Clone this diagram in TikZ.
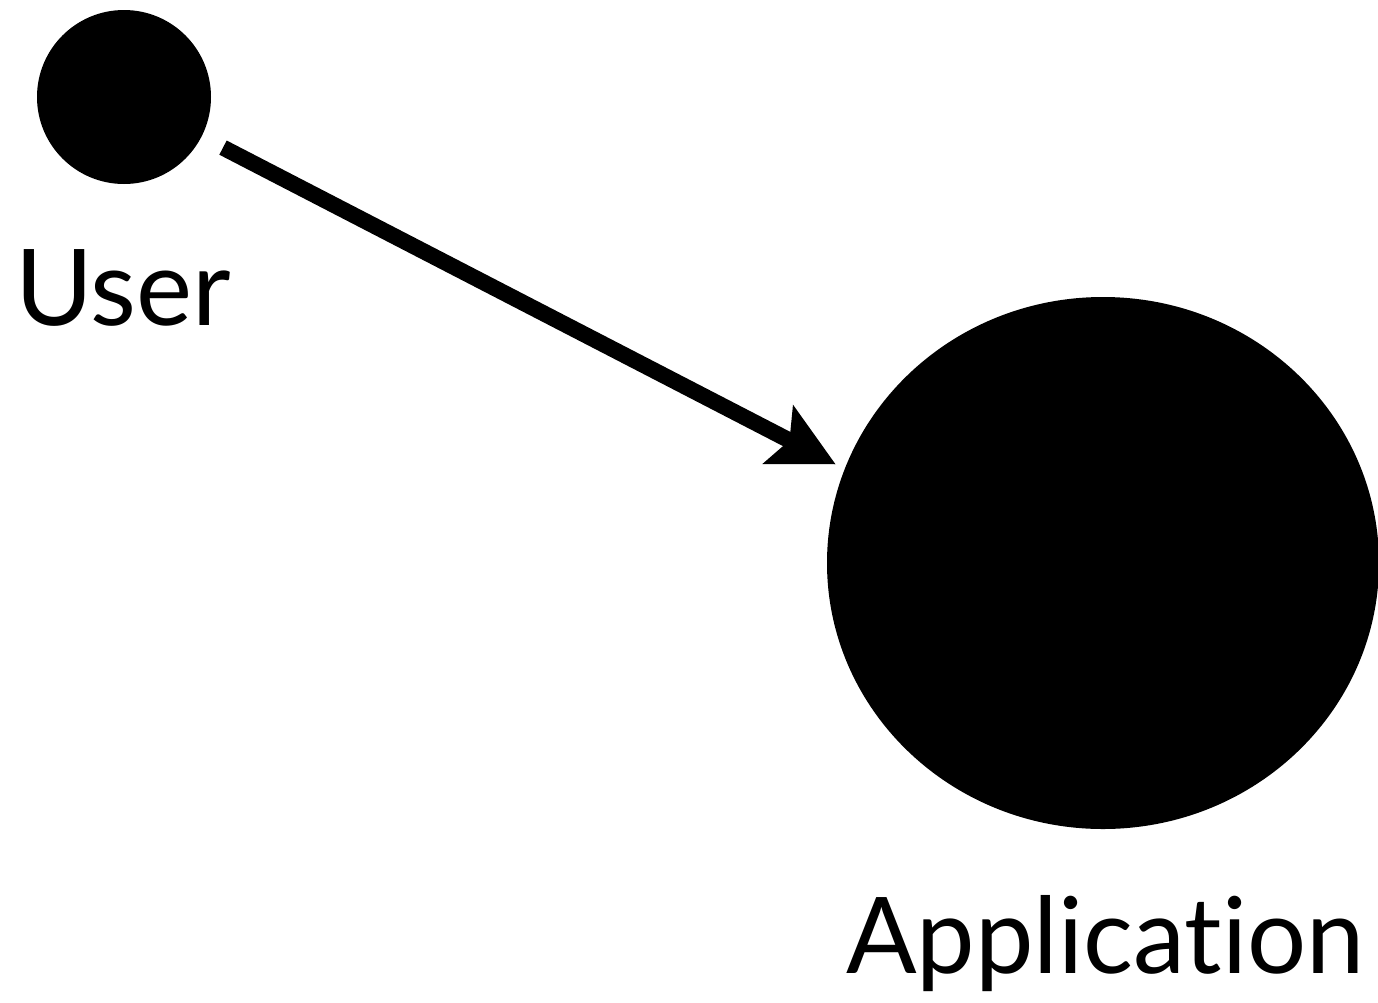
\documentclass[tikz,border=0pt]{standalone}
\usepackage{fontspec}
\setmainfont[Ligatures=NoCommon]{Lato}
\usetikzlibrary{arrows.meta,shapes.geometric}
\begin{document}
\begin{tikzpicture}[x=1pt,y=-1pt,
  blob/.style={fill=black,draw=none,inner sep=0pt},
  lbl/.style={inner sep=0pt,anchor=base west,font=\fontsize{106}{110}\selectfont},
  conn/.style={line width=16pt,-{Stealth[length=64pt,width=64pt,inset=12pt]}}]
\useasboundingbox (0,0) rectangle (1378,1002);
\node[blob,circle,minimum size=174pt] (user) at (124,97) {};
\node[blob,ellipse,minimum width=552pt,minimum height=532pt] (app) at (1103,563) {};
\node[lbl] (userlbl) at (15,325) {User};
\node[lbl] (applbl) at (846,973) {\scalebox{0.985}[1]{Application}};
\draw[conn,shorten <=24pt,shorten >=10pt] (user.-27.7) -- (app.160.7);
\end{tikzpicture}
\end{document}
